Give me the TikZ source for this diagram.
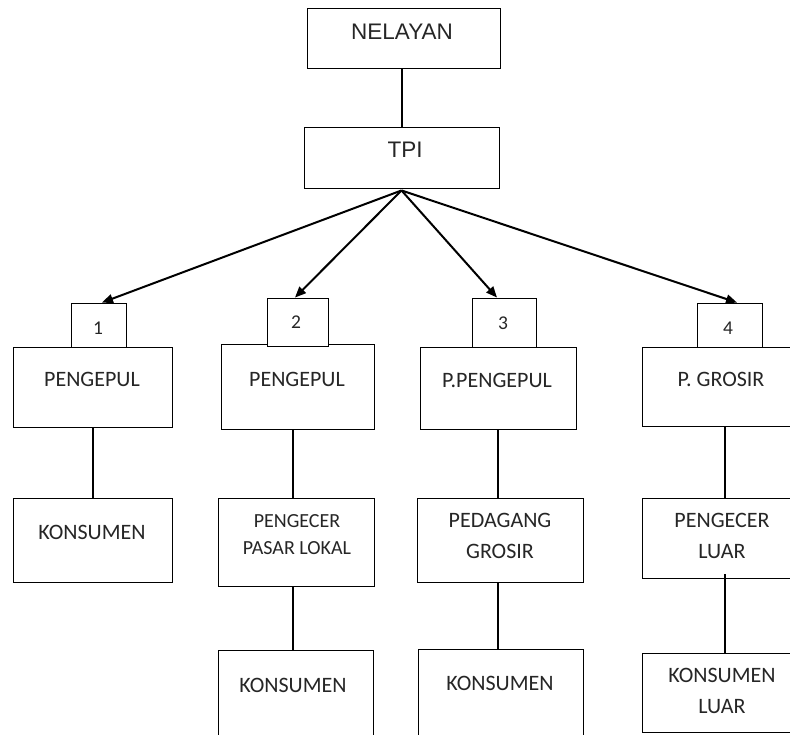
\documentclass[tikz,border=0pt]{standalone}
\usepackage{fontspec}
\setmainfont{Carlito}
\newfontfamily\arialfont{Liberation Sans}
\usetikzlibrary{arrows.meta}
\tikzset{
  box/.style={draw=black, line width=0.9pt, inner sep=0pt, fill=white},
  lbl/.style={inner sep=0pt, align=center, text=black!85, font=\fontsize{22}{31}\selectfont},
  albl/.style={inner sep=0pt, align=center, text=black!85, font=\arialfont\fontsize{22.5}{26}\selectfont},
  nlbl/.style={inner sep=0pt, text=black!85, font=\fontsize{19.5}{22}\selectfont},
  conn/.style={line width=2pt, black},
  arr/.style={line width=2pt, black, -{Triangle[length=11pt,width=9pt]}}
}
\begin{document}
\begin{tikzpicture}[x=1pt,y=-1pt]
\useasboundingbox (0,0) rectangle (790,734);
\clip (0,0) rectangle (790,734);
% boxes (centre, size)
\node[box, minimum width=193pt, minimum height=60pt] (nel) at (403.5,38) {};
\node[box, minimum width=195pt, minimum height=61pt] (tpi) at (401.5,157.5) {};
\node[box, minimum width=159pt, minimum height=80pt] (p1) at (92.5,387) {};
\node[box, minimum width=55pt, minimum height=44pt] (n1) at (98.5,325) {};
\node[box, minimum width=153pt, minimum height=85pt] (p2) at (297.5,386.5) {};
\node[box, minimum width=61pt, minimum height=48pt] (n2) at (297.5,322) {};
\node[box, minimum width=156pt, minimum height=82pt] (p3) at (498,388) {};
\node[box, minimum width=64pt, minimum height=49pt] (n3) at (504,322.5) {};
\node[box, minimum width=158pt, minimum height=79pt] (p4) at (721,386.5) {};
\node[box, minimum width=65pt, minimum height=44pt] (n4) at (729.5,325) {};
\node[box, minimum width=159pt, minimum height=84pt] (k1) at (92.5,540) {};
\node[box, minimum width=156pt, minimum height=88pt] (pp2) at (296,542) {};
\node[box, minimum width=155pt, minimum height=100pt] (k2) at (295.5,700) {};
\node[box, minimum width=166pt, minimum height=84pt] (pg3) at (500,540) {};
\node[box, minimum width=165pt, minimum height=100pt] (k3) at (500.5,699) {};
\node[box, minimum width=158pt, minimum height=80pt] (pl4) at (721,538) {};
\node[box, minimum width=158pt, minimum height=79pt] (kl4) at (721,692.5) {};
% texts
\node[albl] (tnel) at (402,32) {NELAYAN};
\node[albl] (ttpi) at (405,150) {TPI};
\node[nlbl] (t1) at (98,328) {1};
\node[nlbl] (t2) at (296,322) {2};
\node[nlbl] (t3) at (503,323) {3};
\node[nlbl] (t4) at (728,328) {4};
\node[lbl] (tp1) at (92,379) {PENGEPUL};
\node[lbl] (tp2) at (297,379) {PENGEPUL};
\node[lbl] (tp3) at (497,380) {P.PENGEPUL};
\node[lbl] (tp4) at (721,379) {P. GROSIR};
\node[lbl] (tk1) at (92,532) {KONSUMEN};
\node[lbl, font=\fontsize{20}{27}\selectfont] (tpp2) at (297,534.5) {PENGECER\\PASAR LOKAL};
\node[lbl] (tk2) at (293,685) {KONSUMEN};
\node[lbl] (tpg3) at (500,535.5) {PEDAGANG\\GROSIR};
\node[lbl] (tk3) at (500,683) {KONSUMEN};
\node[lbl] (tpl4) at (722,535.5) {PENGECER\\LUAR};
\node[lbl] (tkl4) at (722,690.5) {KONSUMEN\\LUAR};
% connectors
\draw[conn] ([xshift=-2pt]nel.south) -- ([xshift=-2pt]nel.south |- tpi.north);
\draw[arr] ([yshift=-2pt]tpi.south) -- ([xshift=3.5pt]n1.north);
\draw[arr] ([yshift=-2pt]tpi.south) -- ([xshift=-2.5pt]n2.north);
\draw[arr] ([yshift=-2pt]tpi.south) -- ([xshift=-7pt]n3.north);
\draw[arr] ([yshift=-2pt]tpi.south) -- ([xshift=7.5pt]n4.north);
\draw[conn] (p1.south) -- (p1.south |- k1.north);
\draw[conn] ([xshift=-4.5pt]p2.south) -- ([xshift=-4.5pt]p2.south |- pp2.north);
\draw[conn] ([xshift=-3pt]pp2.south) -- ([xshift=-3pt]pp2.south |- k2.north);
\draw[conn] (p3.south) -- (p3.south |- pg3.north);
\draw[conn] ([xshift=-2pt]pg3.south) -- ([xshift=-2pt]pg3.south |- k3.north);
\draw[conn] ([xshift=4pt]p4.south) -- ([xshift=4pt]p4.south |- pl4.north);
\draw[conn] ([xshift=4pt,yshift=4pt]pl4.south) -- ([xshift=4pt]pl4.south |- kl4.north);
\end{tikzpicture}
\end{document}
